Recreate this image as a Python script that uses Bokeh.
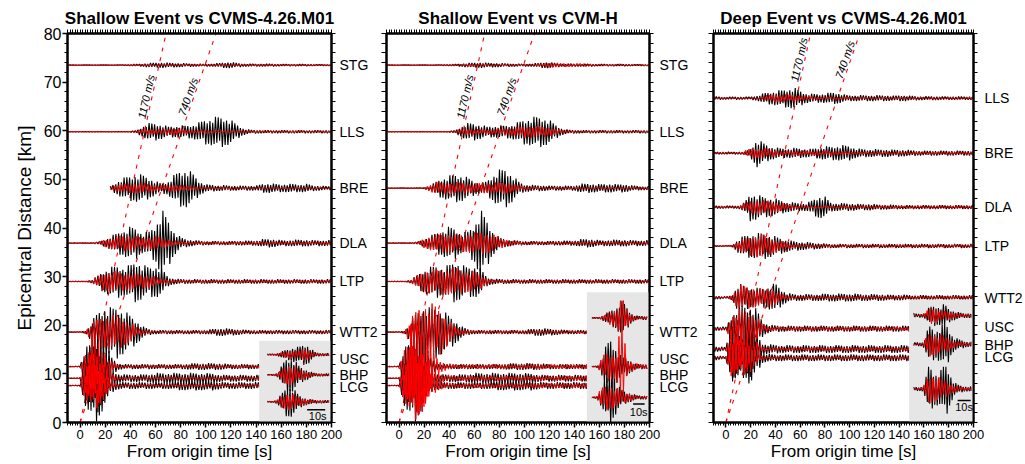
import numpy as np
from bokeh.plotting import figure
from bokeh.models import Range1d, LinearAxis, FixedTicker, ColumnDataSource, CustomJSTickFormatter
from bokeh.layouts import row
from bokeh.embed import file_html
from bokeh.resources import INLINE
from bokeh.core.properties import value

FONT = "Liberation Sans"

# ---------------- data ----------------
STATIONS_SHALLOW = ["STG", "LLS", "BRE", "DLA", "LTP", "WTT2", "USC", "BHP", "LCG"]
DIST_SHALLOW = [73.5, 59.8, 48.2, 36.9, 29.0, 18.6, 11.5, 9.1, 7.6]
LABEL_Y_SHALLOW = [73.5, 59.8, 48.2, 36.9, 29.0, 18.6, 12.97, 9.83, 7.26]
STATIONS_DEEP = ["LLS", "BRE", "DLA", "LTP", "WTT2", "USC", "BHP", "LCG"]
DIST_DEEP = [66.7, 55.4, 44.3, 36.3, 25.7, 19.3, 15.1, 13.3]
LABEL_Y_DEEP = [66.7, 55.4, 44.3, 36.3, 25.7, 19.6, 15.96, 13.4]
INSET_STATIONS = ["USC", "BHP", "LCG"]
VELOCITIES = [1170, 740]  # m/s
TIME_TICKS = list(range(0, 201, 20))
DIST_TICKS = list(range(0, 81, 10))

# trace extents [s]
START_P1 = [-10, -10, 24, -10, -10, -10, -10, -10, -10]
END_P1 = [200, 200, 200, 200, 200, 200, 142.5, 142.5, 142.5]
START_P2 = [-10] * 9
END_P2 = [200, 200, 200, 200, 200, 150, 150, 150, 150]
START_P3 = [-10] * 8
END_P3 = [200, 200, 200, 200, 200, 148, 148, 148]

# envelopes (half peak-to-peak, km), sampled every 5 s from t = -10 s
# shallow event, observed
SO_STG = [.05, .05, .05, .05, .05, .05, .05, .05, .05, .1, .15, .2, .3, .45, .5, .6, .5, .45, .4, .35,
          .3, .25, .25, .3, .4, .6, .65, .45, .3, .3, .25, .3, .3, .25, .2, .2, .2, .2, .2, .15]
SO_LLS = [.05] * 10 + [.1, .3, 1.2, 1.8, 1.8, 1.5, 1.1, 1.2, 1.3, 1.3,
                       1.5, 2.0, 2.6, 2.9, 3.2, 3.1, 2.5, 1.5, .7, .4, .35, .3]
SO_BRE = [.05] * 7 + [.5, 1.5, 2.2, 2.6, 2.9, 2.8, 2.2, 1.5, 1.0, 1.5, 2.8, 3.8, 4.1,
                      3.0, 1.5, .8, .7, .6, .6, .5, .5, .5, .5, .5, .9, 1.0, .9, .8, .9, .9, .8, .9, .6, .5, .4]
SO_DLA = [.05] * 5 + [.3, .8, 1.5, 2.2, 2.8, 3.4, 3.2, 2.0, 2.5, 4.0, 7.0, 5.0, 2.5, 1.2, .8,
                      .6, .5, .4, .4, .4, .4, .4, .45, .5, .5, .5, .8, .9, .8, .6, .6, .7, .7, .7, .6]
SO_LTP = [.05] * 4 + [.4, 1.5, 2.5, 3.0, 3.4, 3.0, 3.5, 4.5, 3.5, 3.0, 3.5, 2.8, 1.0, .6, .5, .45]
SO_WTT2 = [.05] * 3 + [.3, 2.5, 4.5, 5.5, 5.0, 5.5, 4.5, 3.5, 2.5, 1.2, .6, .4, .4, .4, .4, .4, .4,
                       .4, .4, .4, .6, .8, .8, .7, .6, .5, .4]
SO_USC = [.05, .05, .1, 5.0, 9.0, 8.0, 5.0, 2.0, .7, .5, .5, .5, .5, .5, .5, .5, .5, .5, .5, .6,
          .7, .7, .7, .7, .7, .6, .5]
SO_BHP = [.05, .05, .1, 4.5, 7.0, 7.0, 4.0, 2.0, 1.0, .8, .8, .8, .8, .9, 1.1, 1.1, 1.1, 1.1, 1.1, 1.1,
          1.1, 1.1, 1.1, 1.0, .8, .7]
SO_LCG = [.05, .05, .1, 5.0, 8.0, 7.0, 4.0, 1.5, .8, .7, .7, .7, .7, .7, .7, .7, .7, .8, 1.0, 1.0,
          1.0, 1.0, 1.0, 1.0, .8, .7]
# shallow event, CVMS-4.26.M01 synthetics
SS_STG = [.05] * 11 + [.08, .1, .12, .12, .12, .1, .1, .1, .1, .1, .1, .1, .1, .1, .12, .12, .1, .1, .1, .08]
SS_LLS = [.05] * 10 + [.1, .3, .5, .6, .5, .5, .6, .8, .7, .4, .35, .35, .35, .3, .3, .3, .25, .25, .25, .25, .2]
SS_BRE = [.05] * 7 + [.4, .8, .9, 1.0, 1.1, 1.1, .9, .6, .6, .7, .7, .6, .5, .4, .3, .25, .25, .25, .25, .25, .25, .2]
SS_DLA = [.05] * 5 + [.3, .8, 1.2, 1.5, 1.6, 1.7, 1.4, 1.2, 1.3, 1.4, 1.2, .8, .5, .4, .35, .3]
SS_LTP = [.05] * 4 + [.4, 1.2, 2.0, 2.2, 2.0, 1.8, 2.0, 1.6, 1.5, 1.3, 1.0, .6, .4, .35, .3]
SS_WTT2 = [.05] * 3 + [.5, 2.0, 3.0, 3.5, 3.5, 3.5, 3.0, 2.0, 1.0, .5, .3, .25]
SS_USC = [.05, .05, .1, 3.5, 6.5, 6.0, 3.0, 1.0, .4, .3]
SS_BHP = [.05, .05, .1, 3.5, 5.5, 5.0, 3.0, 1.0, .4, .3]
SS_LCG = [.05, .05, .1, 3.5, 5.0, 4.5, 2.5, .8, .3]
# shallow event, CVM-H synthetics
SH_STG = [.05] * 11 + [.1, .2, .3, .3, .3, .25, .2, .2, .2, .2, .2, .2, .2, .2, .4, .5, .5, .4, .4, .4, .35, .3, .25, .2]
SH_LLS = [.05] * 10 + [.1, .3, .6, .7, .6, .5, .5, .6, .6, .7, .8, 1.0, 1.2, 1.2, 1.2, 1.1, 1.0, .6, .4, .3, .25, .2]
SH_BRE = [.05] * 6 + [.2, .8, 1.2, 1.2, 1.1, 1.2, 1.2, 1.0, 1.0, 1.1, 1.0, 1.1, 1.2, 1.2, 1.0, .6, .4, .3, .25]
SH_DLA = [.05] * 5 + [.3, 1.0, 1.5, 1.8, 2.0, 2.0, 1.8, 1.8, 2.0, 2.2, 2.3, 2.2, 1.8, 1.2, .8, .5, .4, .3]
SH_LTP = [.05] * 4 + [.4, 1.5, 2.2, 2.5, 2.5, 2.7, 2.8, 3.0, 2.5, 2.2, 2.2, 1.5, .7, .4, .3]
SH_WTT2 = [.05] * 3 + [.5, 3.0, 5.0, 6.0, 6.0, 5.5, 4.0, 2.5, 1.2, .6, .4, .3]
SH_USC = [.05, .05, .1, 5.0, 9.0, 10.0, 8.0, 5.0, 2.0, 1.0, .6, .5]
SH_BHP = [.05, .05, .1, 4.0, 7.0, 7.0, 6.0, 3.0, 1.5, .8, .6, .5]
SH_LCG = [.05, .05, .1, 4.0, 7.0, 7.0, 5.0, 2.5, 1.2, .7, .5]
# deep event, observed
DO_LLS = [.4, .3, .25, .3, .3, .25, .3, .5, 1.0, 1.3, 1.5, 1.7, 2.0, 2.2, 1.6, 1.0, .9, .9, 1.0, 1.2,
          1.2, .8, .6, .6, .6, .6, .6, .6, .6, .5, .6, .6, .5, .4, .4, .4, .4, .35]
DO_BRE = [.25] * 6 + [1.0, 3.0, 2.2, 1.5, 1.2, 1.0, 1.0, 1.1, 1.0, .9, .9, 1.2, 1.4, 1.4,
                      1.5, 1.7, 1.5, 1.0, .9, .8, .8, .8, .8, .7, .7, .7, .6, .5]
DO_DLA = [.3] * 5 + [1.0, 3.0, 2.6, 2.2, 2.0, 1.8, 1.4, 1.0, 1.0, .8, .8, 1.5, 2.4, 2.2, .9,
                     .8, .8, .8, .7, .6, .7, .6, .5, .5, .5, .4]
DO_LTP = [.1] * 4 + [1.5, 2.2, 2.5, 2.6, 2.8, 2.4, 2.0, 1.6, 1.2, 1.0, .9, .8, .7, .6, .5, .4]
DO_WTT2 = [.4, .3, .2, .5, 3.0, 2.5, 2.2, 2.0, 2.0, 2.5, 3.0, 1.8, .9, .7, .7, .7, .7, .7, .8, .8,
           .8, .8, .8, .8, .7, .7, .7, .7, .6, .6, .6, .6, .5]
DO_USC = [.5, .4, .4, 3.0, 5.0, 5.0, 5.0, 4.0, 1.5, .8, .7, .6]
DO_BHP = [.6, .5, .4, 6.0, 6.0, 5.0, 6.0, 3.0, 1.2, 1.0, .9, .8]
DO_LCG = [.5, .4, .3, 5.0, 5.0, 4.0, 6.0, 3.0, 1.0, .8, .7]
# deep event, CVMS-4.26.M01 synthetics
DS_LLS = [.1] * 8 + [.4, .7, .8, .8, .8, .7, .6, .5, .4, .35, .3, .3, .3, .3, .3, .25]
DS_BRE = [.1] * 5 + [.5, 1.0, 1.1, 1.0, .9, .6, .5, .5, .5, .5, .5, .5, .5, .5, .5, .45, .4, .4, .3]
DS_DLA = [.1] * 5 + [.8, 1.3, 1.4, 1.4, 1.3, 1.1, .9, .6, .4, .3]
DS_LTP = [.1] * 3 + [.2, 1.0, 1.6, 2.0, 2.4, 2.3, 1.8, 1.4, 1.0, .6, .4, .3]
DS_WTT2 = [.1] * 3 + [.5, 2.5, 2.5, 2.2, 2.0, 1.8, 2.0, 1.5, .8, .4, .3]
DS_USC = [.1, .1, .1, 3.0, 4.0, 4.0, 3.5, 2.5, .8, .5, .4]
DS_BHP = [.1, .1, .1, 5.0, 5.0, 4.0, 3.0, 1.5, .5, .4]
DS_LCG = [.1, .1, .1, 4.5, 4.0, 3.5, 3.0, 1.2, .4, .3]

# inset close-ups (USC, BHP, LCG), envelopes every 2.5 s from the inset start
I1O_USC = [.15, .15, .15, .2, .5, .8, 1.0, 1.2, 1.5, 1.6, 1.6, 2.0, 2.2, 2.0, 1.2, .6, .4, .3]
I1O_BHP = [.1, .1, .15, .3, 1.2, 2.5, 3.5, 3.8, 3.5, 2.8, 2.0, 1.5, 1.2, 1.0, .6, .4, .3]
I1O_LCG = [.1, .1, .15, .4, 1.2, 2.2, 3.0, 3.4, 3.0, 2.2, 1.5, 1.0, .8, .6, .5, .4, .3]
I1S_USC = [.1, .1, .1, .2, .4, .6, .7, .8, .8, .7, .8, 1.2, 1.3, 1.0, .6, .4, .3, .25]
I1S_BHP = [.1, .1, .15, .3, .9, 1.6, 2.0, 2.2, 2.0, 1.6, 1.2, 1.0, .8, .6, .4, .3, .25]
I1S_LCG = [.1, .1, .15, .3, .9, 1.4, 1.8, 1.8, 1.6, 1.3, 1.0, .8, .6, .5, .4, .3, .25]
I2O_USC = [.1, .1, .15, .3, .8, 1.2, 1.6, 2.0, 2.5, 3.6, 3.5, 2.5, 1.6, .8, .5, .4]
I2O_BHP = [.1, .1, .3, 1.5, 3.5, 5.0, 6.0, 5.0, 3.5, 2.5, 2.0, 2.0, 1.5, 1.0, .6, .5]
I2O_LCG = [.1, .15, .5, 2.0, 3.5, 4.5, 5.2, 4.5, 3.0, 2.0, 1.5, 1.2, 1.0, .8, .5, .4]
I2H_USC = [.1, .1, .15, .3, .6, 1.0, 1.5, 1.6, 2.0, 3.5, 4.0, 2.0, 1.2, .6, .4, .3]
I2H_BHP = [.1, .1, .3, 1.5, 2.8, 3.0, 3.0, 2.5, 3.0, 8.0, 10.0, 2.0, 1.2, 1.0, .7, .5]
I2H_LCG = [.1, .15, .8, 2.0, 2.5, 2.5, 2.5, 2.2, 2.0, 1.5, 1.2, 1.0, .8, .6, .4, .3]
I3O_USC = [.5, .4, .4, .4, .8, 1.8, 2.0, 2.2, 2.0, 2.0, 2.5, 1.6, 1.2, 1.0, .8, .6, .5]
I3O_BHP = [.4, .4, .4, .4, 2.0, 4.0, 3.5, 3.0, 3.5, 4.0, 4.5, 4.0, 2.5, 1.5, 1.2, 1.0, .8, .6, .5]
I3O_LCG = [.4, .4, .4, .5, 2.5, 5.5, 4.0, 3.5, 3.5, 4.0, 5.5, 5.0, 3.0, 1.5, 1.0, .8, .6, .5]
I3S_USC = [.1, .1, .1, .2, .8, 1.6, 1.8, 1.6, 1.2, 1.0, 1.0, .9, .8, .6, .5, .4, .3]
I3S_BHP = [.1, .1, .1, .2, 1.5, 2.5, 2.5, 2.2, 2.0, 2.0, 1.8, 1.5, 1.0, .8, .6, .5, .4, .3]
I3S_LCG = [.1, .1, .1, .3, 2.0, 3.0, 3.0, 2.8, 2.5, 2.0, 1.8, 1.5, 1.0, .8, .6, .5, .4, .3]

# ---------------- drawing ----------------
H = 464
SHAPE = [1.0, 0.72, 0.93, 0.58, 0.86, 1.0, 0.66, 0.9, 0.78, 0.97, 0.62, 0.84]
MINOR_T = list(range(-10, 201, 2))
MINOR_D = list(range(0, 81, 2))


def wiggle(env, g0, gstep, t0, t1, base, h, phase):
    n = int(np.floor((t1 - t0) / h)) + 1
    t = t0 + h * np.arange(n)
    if t[-1] < t1 - 1e-6:
        t = np.append(t, t1)
    grid = g0 + gstep * np.arange(len(env))
    a = np.interp(t, grid, np.asarray(env, float))
    k = np.arange(len(t)) + phase
    s = np.where(k % 2 == 0, 1.0, -1.0) * np.asarray(SHAPE)[k % len(SHAPE)]
    return list(t), list(base + a * s)


def style_axis(ax):
    ax.axis_line_width = 2
    ax.axis_line_color = "black"
    ax.major_tick_line_width = 1.5
    ax.minor_tick_line_width = 1
    ax.major_tick_in = 0
    ax.minor_tick_in = 0
    ax.major_tick_out = 5
    ax.minor_tick_out = 3
    ax.major_label_text_font = FONT
    ax.axis_label_text_font = FONT
    ax.axis_label_text_font_style = "normal"
    ax.major_label_text_color = "black"
    ax.axis_label_text_color = "black"


def panel(title, width, bl, br, left_labels, stations, dists, label_y, obs, syn, starts, ends,
          box, inset_base, inset_t0, inset_obs, inset_syn, bar, bar_txt, vel_d, lab_standoff):
    p = figure(width=width, height=H, x_range=Range1d(-10, 200), y_range=Range1d(0, 80),
               output_backend="svg", toolbar_location=None, title=title,
               x_axis_location=None, y_axis_location=None,
               min_border_left=bl, min_border_right=br, min_border_top=33, min_border_bottom=42)
    p.title.align = "center"
    p.title.text_font = FONT
    p.title.text_font_size = "17px"
    p.title.text_font_style = "bold"
    p.title.text_color = "black"
    p.title.standoff = 3
    p.outline_line_color = "black"
    p.outline_line_width = 2
    p.background_fill_color = "white"
    p.border_fill_color = "white"

    bottom = LinearAxis(ticker=FixedTicker(ticks=TIME_TICKS, minor_ticks=MINOR_T),
                        axis_label="From origin time [s]")
    style_axis(bottom)
    bottom.major_label_text_font_size = "13px"
    bottom.major_label_standoff = 2
    bottom.axis_label_text_font_size = "17px"
    bottom.axis_label_standoff = 0
    p.add_layout(bottom, "below")

    # tick-only axes: no major labels, only short ticks
    top = LinearAxis(ticker=FixedTicker(ticks=[], minor_ticks=MINOR_T))
    style_axis(top)
    top.minor_tick_out = 4
    top.major_label_standoff = 0
    p.add_layout(top, "above")

    if left_labels:
        left = LinearAxis(ticker=FixedTicker(ticks=DIST_TICKS, minor_ticks=MINOR_D))
        style_axis(left)
        left.major_label_text_font_size = "16px"
        left.major_label_standoff = 1
        left.axis_label = "Epicentral Distance [km]"
        left.axis_label_text_font_size = "19px"
        left.axis_label_standoff = 6
    else:
        left = LinearAxis(ticker=FixedTicker(ticks=[], minor_ticks=MINOR_D))
        style_axis(left)
        left.minor_tick_out = 5
        left.major_label_standoff = 0
    p.add_layout(left, "left")

    right = LinearAxis(ticker=FixedTicker(ticks=label_y, minor_ticks=MINOR_D),
                       formatter=CustomJSTickFormatter(
                           args=dict(ys=label_y, names=stations),
                           code="const i = ys.findIndex(v => Math.abs(v - tick) < 1e-6); return i >= 0 ? names[i] : '';"))
    style_axis(right)
    right.major_tick_out = 0
    right.minor_tick_out = 4
    right.major_label_text_font_size = "14px"
    right.major_label_standoff = lab_standoff
    p.add_layout(right, "right")

    p.xgrid.visible = False
    p.ygrid.visible = False

    # apparent-velocity lines
    for v in VELOCITIES:
        p.line([0, 80 * 1000.0 / v], [0, 80], line_color="red", line_width=1.1, line_dash="4 6")

    # main traces
    bx, by, rx, ry = [], [], [], []
    for i, d in enumerate(dists):
        x, y = wiggle(obs[i], -10, 5, starts[i], ends[i], d, 1.1, i)
        bx.append(x); by.append(y)
        x, y = wiggle(syn[i], -10, 5, starts[i], ends[i], d, 1.3, i + 3)
        rx.append(x); ry.append(y)
    p.multi_line(xs="xs", ys="ys", source=ColumnDataSource(dict(xs=bx, ys=by)), line_color="black", line_width=1.1)
    p.multi_line(xs="xs", ys="ys", source=ColumnDataSource(dict(xs=rx, ys=ry)), line_color="red", line_width=1)

    # inset
    p.quad(left=[box[0]], right=[box[1]], bottom=[box[2]], top=[box[3]], fill_color="#e6e6e6", line_color=None)
    ibx, iby, irx, iry = [], [], [], []
    for i, b in enumerate(inset_base):
        x, y = wiggle(inset_obs[i], inset_t0, 2.5, inset_t0, 198, b, 1.0, i)
        ibx.append(x); iby.append(y)
        x, y = wiggle(inset_syn[i], inset_t0, 2.5, inset_t0, 198, b, 1.2, i + 5)
        irx.append(x); iry.append(y)
    p.multi_line(xs="xs", ys="ys", source=ColumnDataSource(dict(xs=ibx, ys=iby)), line_color="black", line_width=1.1)
    p.multi_line(xs="xs", ys="ys", source=ColumnDataSource(dict(xs=irx, ys=iry)), line_color="red", line_width=1)
    p.line([bar[0], bar[1]], [bar[2], bar[2]], line_color="black", line_width=1.5)
    p.text(x=[bar_txt[0]], y=[bar_txt[1]], text=["10s"], text_font=value(FONT), text_font_size=value("11px"),
           text_align="center", text_baseline="middle", text_color="black")

    # velocity labels
    pps = 266.0 / 210.0
    ppk = 389.0 / 80.0
    xs, ys, txt, ang = [], [], [], []
    for v in VELOCITIES:
        t_line = vel_d * 1000.0 / v
        xs.append(t_line - 4.7)
        ys.append(vel_d)
        txt.append(f"{v} m/s")
        ang.append(float(np.arctan2(ppk, pps * 1000.0 / v)))
    p.text(x=xs, y=ys, text=txt, angle=ang, text_font=value(FONT), text_font_size=value("11px"),
           text_font_style="italic", text_align="center", text_baseline="middle", text_color="black")
    return p


p1 = panel("Shallow Event vs CVMS-4.26.M01", 380, 67, 47, True, STATIONS_SHALLOW, DIST_SHALLOW, LABEL_Y_SHALLOW,
           [SO_STG, SO_LLS, SO_BRE, SO_DLA, SO_LTP, SO_WTT2, SO_USC, SO_BHP, SO_LCG],
           [SS_STG, SS_LLS, SS_BRE, SS_DLA, SS_LTP, SS_WTT2, SS_USC, SS_BHP, SS_LCG],
           START_P1, END_P1, (142.5, 200, 0, 16.8), [13.96, 9.8, 4.27], 149,
           [I1O_USC, I1O_BHP, I1O_LCG], [I1S_USC, I1S_BHP, I1S_LCG],
           (180.6, 195.0, 2.6), (189.0, 1.4), 67.0, 4)
p2 = panel("Shallow Event vs CVM-H", 320, 6, 48, False, STATIONS_SHALLOW, DIST_SHALLOW, LABEL_Y_SHALLOW,
           [SO_STG, SO_LLS, SO_BRE, SO_DLA, SO_LTP, SO_WTT2, SO_USC, SO_BHP, SO_LCG],
           [SH_STG, SH_LLS, SH_BRE, SH_DLA, SH_LTP, SH_WTT2, SH_USC, SH_BHP, SH_LCG],
           START_P2, END_P2, (150, 200, 0, 26.8), [21.5, 11.5, 5.15], 154,
           [I2O_USC, I2O_BHP, I2O_LCG], [I2H_USC, I2H_BHP, I2H_LCG],
           (186.9, 196.1, 3.8), (191.4, 2.25), 67.0, 6)
p3 = panel("Deep Event vs CVMS-4.26.M01", 325, 13, 46, False, STATIONS_DEEP, DIST_DEEP, LABEL_Y_DEEP,
           [DO_LLS, DO_BRE, DO_DLA, DO_LTP, DO_WTT2, DO_USC, DO_BHP, DO_LCG],
           [DS_LLS, DS_BRE, DS_DLA, DS_LTP, DS_WTT2, DS_USC, DS_BHP, DS_LCG],
           START_P3, END_P3, (148, 200, 0, 25.3), [22.0, 16.1, 6.9], 151.7,
           [I3O_USC, I3O_BHP, I3O_LCG], [I3S_USC, I3S_BHP, I3S_LCG],
           (187.2, 197.7, 4.5), (192.4, 3.1), 74.6, 7)

layout = row(p1, p2, p3)
open("out.html", "w").write(file_html(layout, INLINE))
